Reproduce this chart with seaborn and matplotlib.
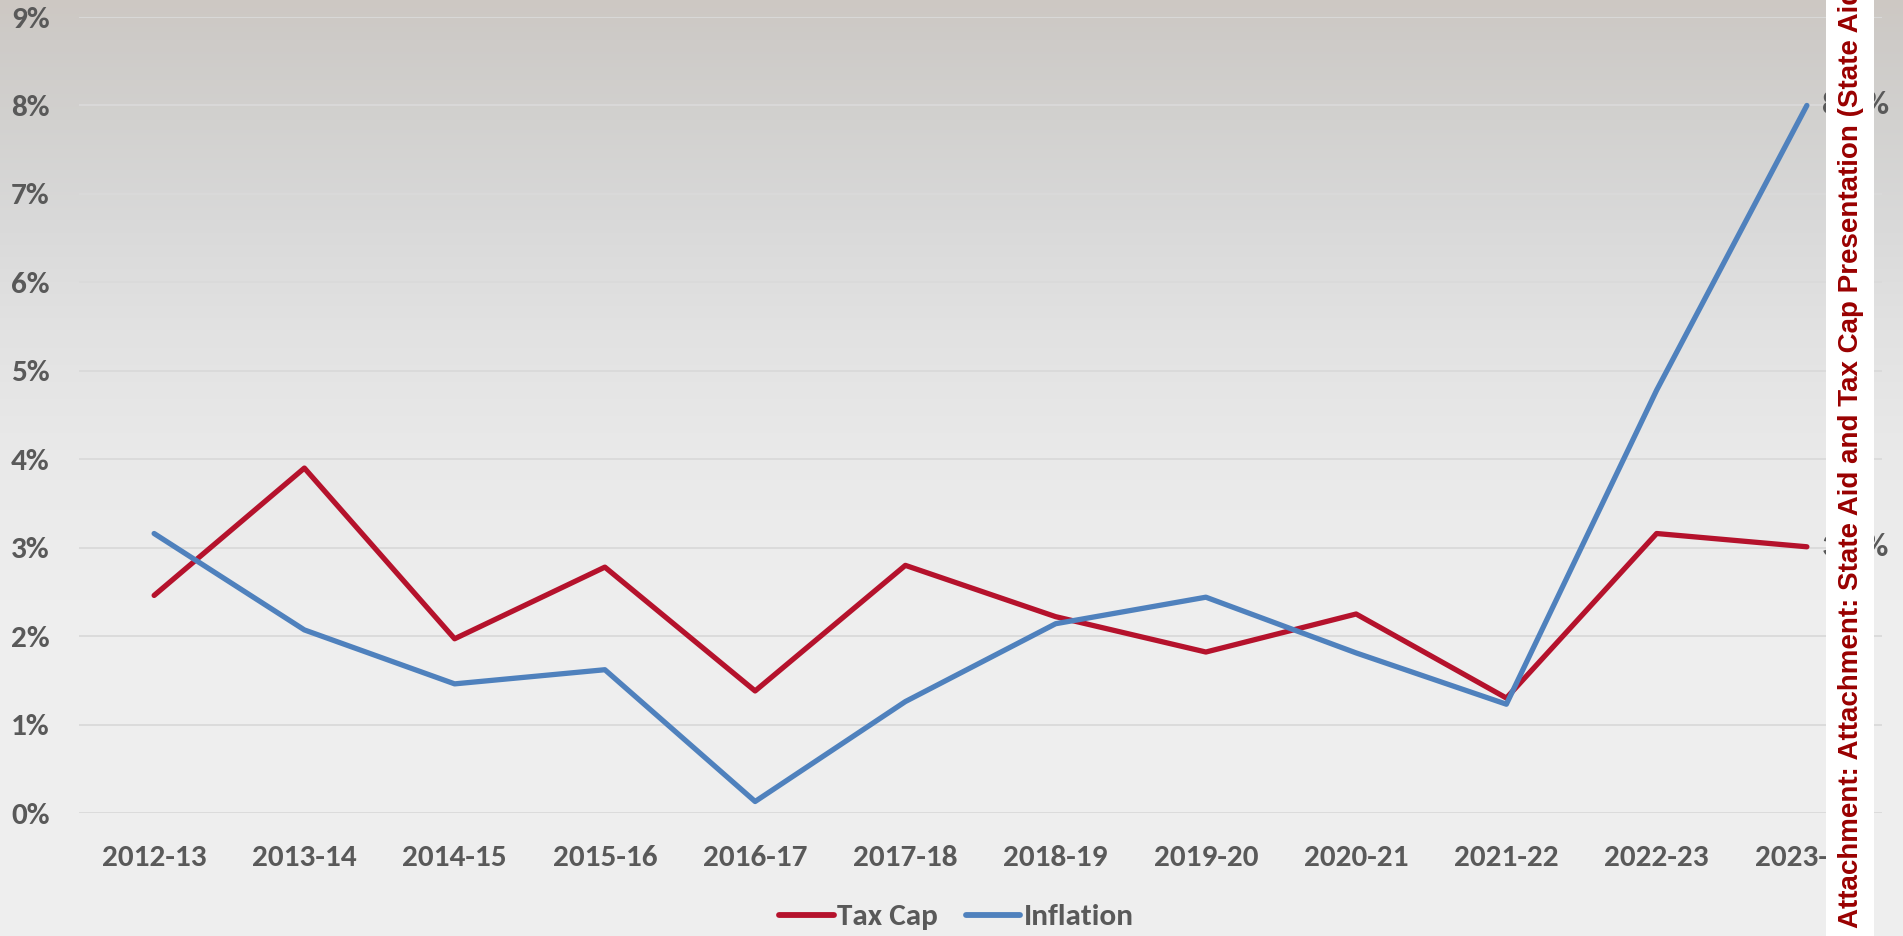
import numpy as np
import pandas as pd
import seaborn as sns
import matplotlib.pyplot as plt
from matplotlib import font_manager
from matplotlib.patches import Rectangle
from matplotlib.lines import Line2D

# %% data
years = ["2012-13", "2013-14", "2014-15", "2015-16", "2016-17", "2017-18",
         "2018-19", "2019-20", "2020-21", "2021-22", "2022-23", "2023-24"]
tax_cap = [2.46, 3.90, 1.97, 2.78, 1.38, 2.80, 2.22, 1.82, 2.25, 1.30, 3.16, 3.01]
inflation = [3.16, 2.07, 1.46, 1.62, 0.13, 1.26, 2.14, 2.44, 1.81, 1.23, 4.78, 8.00]
end_labels = {"Tax Cap": "3.1%", "Inflation": "8.0%"}
y_ticks = list(range(0, 10))
side_text = "Attachment: Attachment: State Aid and Tax Cap Presentation (State Aid / Tax Cap)"

colors = {"Tax Cap": "#B5122C", "Inflation": "#4F81BD"}
grey = "#595959"

W, H = 1903, 936

# %% fonts
installed = {f.name for f in font_manager.fontManager.ttflist}
def pick(*names):
    for n in names:
        if n in installed:
            return n
    return "DejaVu Sans"

tick_font = pick("Carlito", "Lato", "Open Sans")
side_font = pick("Liberation Sans Narrow", "Liberation Sans")
side_size = 21.5 if side_font == "Liberation Sans Narrow" else 20

sns.set_theme(style="white")
plt.rcParams["font.family"] = [tick_font, "DejaVu Sans"]

# %% long frame for seaborn
pos = np.arange(len(years))
df = pd.DataFrame({
    "pos": np.concatenate([pos, pos]),
    "value": tax_cap + inflation,
    "series": ["Tax Cap"] * len(years) + ["Inflation"] * len(years),
})

fig = plt.figure(figsize=(W / 100, H / 100), dpi=100)

# background gradient (photo-ish slide background)
stops_y = [0, 40, 120, 220, 330, 450, 600, 936]
stops_c = [(205, 200, 195), (206, 203, 200), (210, 209, 207), (217, 217, 217),
           (226, 226, 226), (233, 233, 233), (238, 238, 238), (239, 239, 239)]
rows = np.arange(H)
img = np.stack([np.interp(rows, stops_y, [c[i] for c in stops_c]) for i in range(3)], axis=-1)
img = (img[:, None, :] / 255.0)
bg = fig.add_axes([0, 0, 1, 1], zorder=-1)
bg.imshow(img, aspect="auto", extent=[0, 1, 0, 1])
bg.axis("off")

ax = fig.add_axes([79 / W, 1 - 813 / H, (1882 - 79) / W, (813 - 17) / H], zorder=1)
ax.set_facecolor("none")

sns.lineplot(data=df, x="pos", y="value", hue="series", palette=colors,
             linewidth=3.8, sort=False, legend=False, ax=ax,
             solid_capstyle="round", solid_joinstyle="round")

ax.set_xlim(-0.5, len(years) - 0.5)
ax.set_ylim(0, 9)
ax.set_xticks(pos, years)
ax.set_yticks(y_ticks, [f"{v}%" for v in y_ticks])
ax.yaxis.grid(True, color="#dadada", linewidth=1.3)
ax.xaxis.grid(False)
ax.set_axisbelow(True)
for s in ax.spines.values():
    s.set_visible(False)
ax.set_xlabel("")
ax.set_ylabel("")
ax.tick_params(axis="x", length=0, pad=23, labelsize=22.5, labelcolor=grey)
ax.tick_params(axis="y", length=0, pad=21, labelsize=22.5, labelcolor=grey)
for lab in ax.get_xticklabels() + ax.get_yticklabels():
    lab.set_fontweight("bold")

# end-of-series data labels (mostly hidden by the side band)
for name, vals in (("Tax Cap", tax_cap), ("Inflation", inflation)):
    ax.annotate(end_labels[name], xy=(pos[-1], vals[-1]), xytext=(11, 0),
                textcoords="offset points", ha="left", va="center",
                fontsize=24, fontweight="bold", color=grey, annotation_clip=False)

# legend
handles = [Line2D([], [], color=colors[k], lw=4.2, solid_capstyle="round") for k in colors]
leg = fig.legend(handles, list(colors), loc="center", bbox_to_anchor=(0.5025, 1 - 917 / H),
                 ncol=2, frameon=False, fontsize=22.5, handlelength=1.75,
                 handletextpad=0.1, columnspacing=0.9)
for t in leg.get_texts():
    t.set_color(grey)
    t.set_fontweight("bold")

# white side band with rotated attachment caption
fig.add_artist(Rectangle((1826 / W, 0), 48 / W, 1, transform=fig.transFigure,
                         facecolor="white", edgecolor="none", zorder=5))
fig.text(1851 / W, 8 / H, side_text, rotation=90, ha="center", va="bottom",
         color="#990000", fontsize=side_size, fontweight="bold",
         family=side_font, zorder=6)

fig.savefig("out.png", dpi=100)
